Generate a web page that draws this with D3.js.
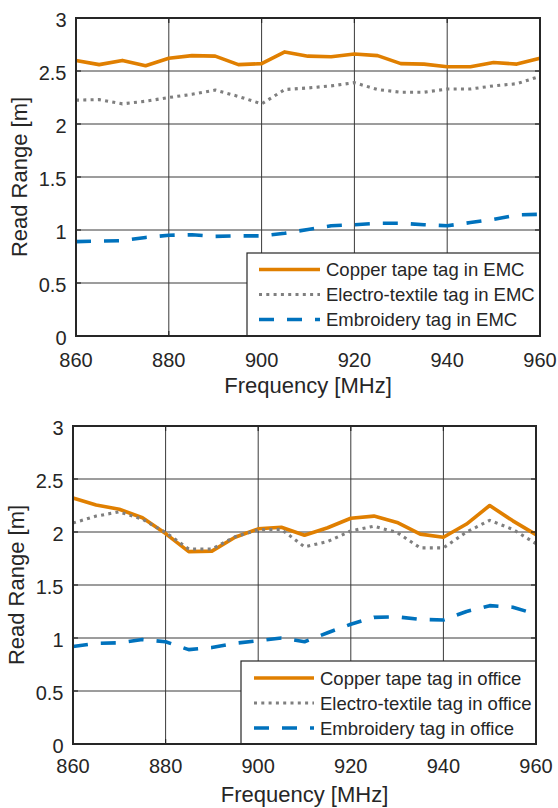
<!DOCTYPE html>
<html>
<head>
<meta charset="utf-8">
<script src="https://cdn.jsdelivr.net/npm/d3@7/dist/d3.min.js"></script>
<style>
  body { margin: 0; background: #fff; }
  svg { display: block; }
  text { font-family: "Liberation Sans", Arial, Helvetica, sans-serif; fill: #262626; }
</style>
</head>
<body>
<svg id="chart" width="558" height="808"></svg>
<script>
// Measurement frequencies [MHz]
const frequency = [860, 865, 870, 875, 880, 885, 890, 895, 900, 905, 910,
                   915, 920, 925, 930, 935, 940, 945, 950, 955, 960];

// Read range [m] measured in the EMC chamber
const emcCopper = [2.60, 2.56, 2.60, 2.55, 2.62, 2.645, 2.64, 2.56, 2.57, 2.68, 2.64,
                   2.635, 2.66, 2.645, 2.57, 2.565, 2.54, 2.54, 2.58, 2.565, 2.62];
const emcTextile = [2.225, 2.23, 2.19, 2.215, 2.25, 2.28, 2.32, 2.26, 2.19, 2.325, 2.34,
                    2.36, 2.39, 2.325, 2.30, 2.30, 2.33, 2.33, 2.36, 2.38, 2.45];
const emcEmbroidery = [0.89, 0.895, 0.90, 0.93, 0.95, 0.955, 0.94, 0.945, 0.945, 0.97, 1.005,
                       1.04, 1.05, 1.063, 1.063, 1.05, 1.04, 1.07, 1.10, 1.142, 1.148];

// Read range [m] measured in the office
const officeCopper = [2.32, 2.255, 2.215, 2.135, 1.985, 1.815, 1.82, 1.95, 2.03, 2.045, 1.97,
                      2.04, 2.13, 2.15, 2.09, 1.98, 1.95, 2.075, 2.25, 2.105, 1.975];
const officeTextile = [2.085, 2.15, 2.19, 2.12, 1.995, 1.84, 1.84, 1.955, 2.02, 2.025, 1.86,
                       1.91, 2.01, 2.055, 1.995, 1.85, 1.85, 2.0, 2.11, 2.025, 1.89];
const officeEmbroidery = [0.92, 0.95, 0.955, 0.985, 0.965, 0.89, 0.91, 0.95, 0.975, 1.0, 0.965,
                          1.05, 1.13, 1.195, 1.2, 1.175, 1.17, 1.25, 1.305, 1.29, 1.225];

// Axis ticks
const xTicks = [860, 880, 900, 920, 940, 960];
const yTicks = [0, 0.5, 1, 1.5, 2, 2.5, 3];
const yTickLabels = ["0", "0.5", "1", "1.5", "2", "2.5", "3"];

// Legend entries
const emcLabels = ["Copper tape tag in EMC", "Electro-textile tag in EMC", "Embroidery tag in EMC"];
const officeLabels = ["Copper tape tag in office", "Electro-textile tag in office", "Embroidery tag in office"];

const xLabel = "Frequency [MHz]";
const yLabel = "Read Range [m]";

// Series line styles: solid copper, dotted textile, dashed embroidery
const lineStyles = [
  { color: "#E07F00", width: 3.6, dash: null },
  { color: "#7F7F7F", width: 3.1, dash: "3 4.3" },
  { color: "#0072BD", width: 3.6, dash: "15 13" }
];

const AXIS = "#262626";
const svg = d3.select("#chart");

function drawPanel(cfg) {
  const x = d3.scaleLinear().domain([860, 960]).range([cfg.left, cfg.left + cfg.width]);
  const y = d3.scaleLinear().domain([0, 3]).range([cfg.top + cfg.height, cfg.top]);
  const g = svg.append("g");
  const x0 = cfg.left, x1 = cfg.left + cfg.width;
  const y0 = cfg.top + cfg.height, y1 = cfg.top;

  // grid
  g.append("g").selectAll("line.vg").data(xTicks.slice(1, -1)).join("line")
    .attr("x1", d => x(d)).attr("x2", d => x(d)).attr("y1", y1).attr("y2", y0)
    .attr("stroke", "#3a3a3a").attr("stroke-width", 1);
  g.append("g").selectAll("line.hg").data(yTicks.slice(1, -1)).join("line")
    .attr("y1", d => y(d)).attr("y2", d => y(d)).attr("x1", x0).attr("x2", x1)
    .attr("stroke", "#3a3a3a").attr("stroke-width", 1);

  // data lines
  const line = d3.line().x((d, i) => x(frequency[i])).y(d => y(d));
  cfg.series.forEach((s, k) => {
    const st = lineStyles[k];
    g.append("path").datum(s).attr("d", line)
      .attr("fill", "none").attr("stroke", st.color).attr("stroke-width", st.width)
      .attr("stroke-linejoin", "round")
      .attr("stroke-dasharray", st.dash);
  });

  // tick marks (inward, all four sides)
  const tl = 5;
  const ticks = g.append("g").attr("stroke", AXIS).attr("stroke-width", 1.2);
  xTicks.forEach(t => {
    ticks.append("line").attr("x1", x(t)).attr("x2", x(t)).attr("y1", y0).attr("y2", y0 - tl);
    ticks.append("line").attr("x1", x(t)).attr("x2", x(t)).attr("y1", y1).attr("y2", y1 + tl);
  });
  yTicks.forEach(t => {
    ticks.append("line").attr("y1", y(t)).attr("y2", y(t)).attr("x1", x0).attr("x2", x0 + tl);
    ticks.append("line").attr("y1", y(t)).attr("y2", y(t)).attr("x1", x1).attr("x2", x1 - tl);
  });

  // legend
  const L = cfg.legend;
  const lg = g.append("g");
  lg.append("rect").attr("x", L.x).attr("y", L.y).attr("width", x1 - L.x).attr("height", y0 - L.y)
    .attr("fill", "#fff").attr("stroke", AXIS).attr("stroke-width", 1.2);
  cfg.labels.forEach((lab, k) => {
    const st = lineStyles[k];
    const cy = L.rows[k];
    lg.append("line").attr("x1", L.s0).attr("x2", L.s1).attr("y1", cy).attr("y2", cy)
      .attr("stroke", st.color).attr("stroke-width", st.width).attr("stroke-dasharray", st.dash);
    lg.append("text").attr("x", L.tx).attr("y", cy + 6.7).attr("font-size", 18.5).text(lab);
  });

  // axes box
  g.append("rect").attr("x", x0).attr("y", y1).attr("width", cfg.width).attr("height", cfg.height)
    .attr("fill", "none").attr("stroke", AXIS).attr("stroke-width", 2);

  // tick labels
  g.append("g").selectAll("text").data(xTicks).join("text")
    .attr("x", d => x(d)).attr("y", cfg.xTickY).attr("text-anchor", "middle")
    .attr("font-size", 20).text(d => d);
  g.append("g").selectAll("text").data(yTicks).join("text")
    .attr("x", x0 - 9.5).attr("y", d => y(d) + 8.6).attr("text-anchor", "end")
    .attr("font-size", 20).text((d, i) => yTickLabels[i]);

  // axis titles
  g.append("text").attr("x", (x0 + x1) / 2).attr("y", cfg.xLabelY).attr("text-anchor", "middle")
    .attr("font-size", 22).text(xLabel);
  g.append("text").attr("transform", `translate(${cfg.yLabelX},${(y0 + y1) / 2}) rotate(-90)`)
    .attr("text-anchor", "middle").attr("font-size", 22).text(yLabel);
}

drawPanel({
  left: 76, top: 18, width: 464, height: 318,
  series: [emcCopper, emcTextile, emcEmbroidery],
  labels: emcLabels,
  legend: { x: 247, y: 253, s0: 259, s1: 320, tx: 326, rows: [269.5, 294.5, 319.5] },
  xTickY: 367, xLabelY: 393, yLabelX: 27
});

drawPanel({
  left: 73, top: 426, width: 463, height: 318,
  series: [officeCopper, officeTextile, officeEmbroidery],
  labels: officeLabels,
  legend: { x: 241, y: 661, s0: 254, s1: 314, tx: 320, rows: [678, 703, 728] },
  xTickY: 773, xLabelY: 802, yLabelX: 24
});
</script>
</body>
</html>
